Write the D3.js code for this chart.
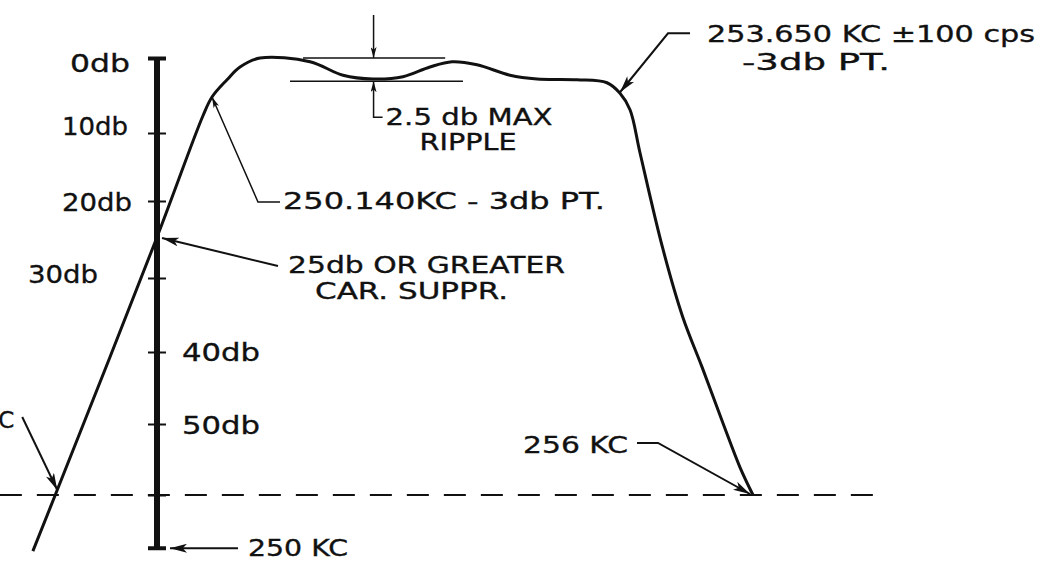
<!DOCTYPE html>
<html>
<head>
<meta charset="utf-8">
<script src="https://cdn.jsdelivr.net/npm/d3@7"></script>
<style>
  body { margin: 0; background: #fff; }
  text { font-family: "DejaVu Sans", sans-serif; fill: #111; stroke: #111; stroke-width: 0.35; }
</style>
</head>
<body>
<svg id="chart" width="1061" height="571"></svg>
<script>
// filter response as sketched: frequency (KC) against attenuation (db down)
var curveKC = [249.684, 249.741, 250.000, 250.117, 250.140, 250.269, 250.381, 250.553,
               250.983, 251.267, 251.525, 251.783, 252.015, 252.205, 252.420, 252.704,
               252.936, 253.280, 253.538, 253.650, 253.827, 254.003, 254.400, 254.760,
               255.100, 255.470, 255.770, 256.000];
var curveDb = [67.9, 60.0, 24.7, 7.7, 5.2, 2.9, 1.2, 0.0,
               0.5, 2.3, 2.8, 2.5, 1.2, 0.5, 0.9, 2.3,
               2.8, 2.9, 3.3, 4.7, 6.9, 12.9, 26.0, 35.3,
               42.1, 49.9, 56.1, 60.0];

var dbTicks  = [0, 10, 20, 30, 40, 50, 60];
var dbLabels = ["0db", "10db", "20db", "30db", "40db", "50db", ""];
var axisEndDb = 67.5;

var floorDb = 60;
var floorSpanKC = [249.6, 258.12];

var rippleDb = [0, 3.1];
var rippleSpanKC = [[250.923, 252.146], [250.811, 252.299]];
var rippleKC = 251.53;

// callouts: text, and the point on the chart each arrow touches
var noteLabels = [
  ["250.140KC - 3db PT."],
  ["25db OR GREATER", "CAR. SUPPR."],
  ["253.650 KC \u00b1100 cps", "-3db PT."],
  ["256 KC"],
  ["KC"],
  ["250 KC"],
  ["2.5 db MAX", "RIPPLE"]
];
var noteKC = [250.14, 250, 253.65, 256, 249.741, 250, rippleKC];
var noteDb = [5.2, 25, 4.7, 60, 60, axisEndDb, rippleDb[1]];

var svg = d3.select("#chart");
svg.append("rect").attr("width", 1061).attr("height", 571).attr("fill", "#fff");

// hand drawn, not to scale: piecewise scales through the marked points
var x = d3.scaleLinear()
  .domain([250, 250.14, 253.65, 256])
  .range([157, 212, 620, 753]);
var y = d3.scaleLinear()
  .domain(dbTicks)
  .range([58, 133, 201, 278, 352, 424, 495]);

var defs = svg.append("defs");
function marker(id, len, wid) {
  defs.append("marker")
    .attr("id", id)
    .attr("viewBox", "0 0 " + len + " " + wid)
    .attr("refX", len).attr("refY", wid / 2)
    .attr("markerWidth", len).attr("markerHeight", wid)
    .attr("markerUnits", "userSpaceOnUse")
    .attr("orient", "auto")
    .append("path")
    .attr("d", "M0,0L" + len + "," + (wid / 2) + "L0," + wid + "L" + (len * 0.25) + "," + (wid / 2) + "Z")
    .attr("fill", "#111");
}
marker("head", 17, 9);
marker("thin", 11, 6);

// dashed 60 db floor
svg.append("line")
  .attr("x1", x(floorSpanKC[0])).attr("x2", x(floorSpanKC[1]))
  .attr("y1", y(floorDb)).attr("y2", y(floorDb))
  .attr("stroke", "#111").attr("stroke-width", 2)
  .attr("stroke-dasharray", "22,15");

// db scale at 250 KC
var ax = x(250);
svg.append("line")
  .attr("x1", ax).attr("x2", ax)
  .attr("y1", y(0)).attr("y2", y(axisEndDb))
  .attr("stroke", "#111").attr("stroke-width", 6);

var gAxis = svg.append("g")
  .attr("transform", "translate(" + ax + ",0)")
  .call(d3.axisRight(y).tickValues(dbTicks).tickSize(0).tickFormat(""));
gAxis.select(".domain").remove();

gAxis.selectAll(".tick").append("line")
  .attr("x1", -9).attr("x2", 9)
  .attr("stroke", "#111")
  .attr("stroke-width", function(d) { return d === 0 ? 4 : 2; });

svg.append("line")
  .attr("x1", ax - 9).attr("x2", ax + 9)
  .attr("y1", y(axisEndDb)).attr("y2", y(axisEndDb))
  .attr("stroke", "#111").attr("stroke-width", 4);

// tick labels: upper ones left of the scale, lower ones right
var tickFs = 25;
var tickPos = [
  { dx: -27, dy: 4,  len: 60 },
  { dx: -29, dy: -8, len: 66 },
  { dx: -25, dy: 0,  len: 70 },
  { dx: -59, dy: -5, len: 70 },
  { dx: 25,  dy: -1, len: 78 },
  { dx: 25,  dy: 0,  len: 78 },
  null
];
gAxis.selectAll(".tick").each(function(d, i) {
  var p = tickPos[i];
  if (!p) return;
  d3.select(this).select("text").remove();
  d3.select(this).append("text")
    .attr("x", p.dx)
    .attr("y", p.dy + tickFs * 0.36)
    .attr("text-anchor", p.dx < 0 ? "end" : "start")
    .attr("font-size", tickFs)
    .attr("textLength", p.len)
    .attr("lengthAdjust", "spacingAndGlyphs")
    .text(dbLabels[i]);
});

// response curve
var pts = curveKC.map(function(k, i) { return [k, curveDb[i]]; });
svg.append("path")
  .datum(pts)
  .attr("d", d3.line()
    .x(function(d) { return x(d[0]); })
    .y(function(d) { return y(d[1]); })
    .curve(d3.curveCatmullRom.alpha(0.5)))
  .attr("fill", "none")
  .attr("stroke", "#111")
  .attr("stroke-width", 3)
  .attr("stroke-linejoin", "round");

// ripple limit lines
rippleDb.forEach(function(db, i) {
  svg.append("line")
    .attr("x1", x(rippleSpanKC[i][0])).attr("x2", x(rippleSpanKC[i][1]))
    .attr("y1", y(db)).attr("y2", y(db))
    .attr("stroke", "#111").attr("stroke-width", 1.5);
});
svg.append("line")
  .attr("x1", x(rippleKC)).attr("x2", x(rippleKC))
  .attr("y1", y(rippleDb[0]) - 43).attr("y2", y(rippleDb[0]))
  .attr("stroke", "#111").attr("stroke-width", 1.5)
  .attr("marker-end", "url(#thin)");

// callouts, offsets in px from where the arrow lands
var noteFs = 23;
var noteLayout = [
  { tip: [0, 0],     path: [[46, 105], [68, 105]],   head: "thin",
    text: [{ dx: 71, dy: 104, len: 322 }] },
  { tip: [5, -1.5],  path: [[116, 28]],              head: "head",
    text: [{ dx: 126, dy: 27, len: 277 }, { dx: 153, dy: 53, len: 193 }] },
  { tip: [0, -1],    path: [[48, -59], [70, -59]],   head: "head",
    text: [{ dx: 87, dy: -59, len: 328 }, { dx: 122, dy: -31, len: 148 }] },
  { tip: [-3, -1],   path: [[-92, -51], [-113, -51]], head: "head",
    text: [{ dx: -122, dy: -49, len: 105, anchor: "end" }] },
  { tip: [2, -5],    path: [[-35, -73]],             head: "head",
    text: [{ dx: -43, dy: -70, anchor: "end" }] },
  { tip: [13, 0],    path: [[68, 0]],                head: "head",
    text: [{ dx: 78, dy: -1, len: 100 }] },
  { tip: [0, 0],     path: [[0, 36], [9, 36]],       head: "thin",
    text: [{ dx: 12, dy: 35, len: 167 }, { dx: 46, dy: 60, len: 97 }] }
];

noteLabels.forEach(function(lines, i) {
  var lay = noteLayout[i];
  var tx = x(noteKC[i]) + lay.tip[0];
  var ty = y(noteDb[i]) + lay.tip[1];
  var leader = [[tx, ty]].concat(lay.path.map(function(p) { return [tx + p[0], ty + p[1]]; }));
  svg.append("path")
    .attr("d", d3.line()(leader.reverse()))
    .attr("fill", "none")
    .attr("stroke", "#111")
    .attr("stroke-width", lay.head === "thin" ? 1.5 : 2)
    .attr("marker-end", "url(#" + lay.head + ")");
  lines.forEach(function(s, j) {
    var t = lay.text[j];
    var el = svg.append("text")
      .attr("x", tx + t.dx)
      .attr("y", ty + t.dy + noteFs * 0.36)
      .attr("text-anchor", t.anchor || "start")
      .attr("font-size", noteFs)
      .text(s);
    if (t.len) el.attr("textLength", t.len).attr("lengthAdjust", "spacingAndGlyphs");
  });
});
</script>
</body>
</html>
